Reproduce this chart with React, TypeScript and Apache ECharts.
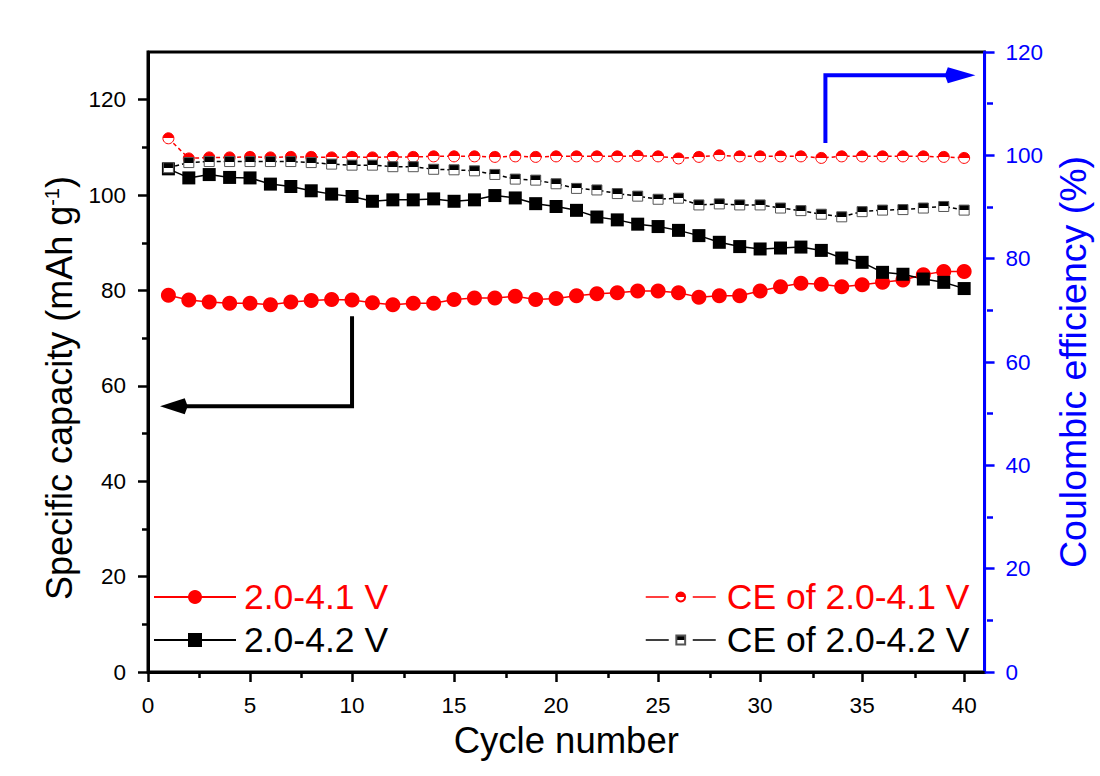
import React, { useEffect, useRef } from "react";
import * as echarts from "echarts";

const cycles = [1, 2, 3, 4, 5, 6, 7, 8, 9, 10, 11, 12, 13, 14, 15, 16, 17, 18, 19, 20, 21, 22, 23, 24, 25, 26, 27, 28, 29, 30, 31, 32, 33, 34, 35, 36, 37, 38, 39, 40];

const cap41 = [79.0, 78.0, 77.6, 77.3, 77.3, 77.0, 77.6, 77.9, 78.1, 78.0, 77.4, 77.0, 77.3, 77.3, 78.1, 78.4, 78.4, 78.8, 78.1, 78.3, 78.9, 79.3, 79.5, 79.9, 79.9, 79.5, 78.6, 78.9, 78.9, 79.9, 80.8, 81.5, 81.3, 80.8, 81.2, 81.7, 82.2, 83.3, 84.0, 84.0];

const cap42 = [105.5, 103.6, 104.3, 103.7, 103.6, 102.3, 101.8, 100.9, 100.2, 99.7, 98.7, 99.0, 99.0, 99.2, 98.7, 99.0, 99.9, 99.4, 98.2, 97.6, 96.8, 95.4, 94.8, 93.9, 93.4, 92.6, 91.5, 90.1, 89.2, 88.7, 88.9, 89.1, 88.4, 86.8, 85.9, 83.8, 83.4, 82.4, 81.7, 80.4];

const ce41 = [103.3, 99.4, 99.6, 99.6, 99.7, 99.6, 99.7, 99.7, 99.6, 99.7, 99.6, 99.7, 99.7, 99.8, 99.8, 99.8, 99.7, 99.8, 99.7, 99.8, 99.8, 99.8, 99.8, 99.9, 99.8, 99.4, 99.7, 100.0, 99.8, 99.8, 99.8, 99.8, 99.5, 99.8, 99.8, 99.8, 99.8, 99.8, 99.7, 99.5];

const ce42 = [97.6, 98.6, 98.8, 98.8, 98.8, 98.8, 98.8, 98.6, 98.3, 98.1, 98.1, 97.8, 97.8, 97.3, 97.2, 97.0, 96.3, 95.4, 95.2, 94.5, 93.6, 93.3, 92.6, 92.1, 91.5, 91.7, 90.4, 90.6, 90.4, 90.4, 89.8, 89.3, 88.6, 88.1, 89.1, 89.4, 89.5, 89.8, 90.1, 89.4];

const xMajorTicks = [0, 5, 10, 15, 20, 25, 30, 35, 40];
const xMinorTicks = [2.5, 7.5, 12.5, 17.5, 22.5, 27.5, 32.5, 37.5];
const yLeftMajorTicks = [0, 20, 40, 60, 80, 100, 120];
const yLeftMinorTicks = [10, 30, 50, 70, 90, 110];
const yRightMajorTicks = [0, 20, 40, 60, 80, 100, 120];
const yRightMinorTicks = [10, 30, 50, 70, 90, 110];

const seriesNames = ["2.0-4.1 V", "2.0-4.2 V", "CE of 2.0-4.1 V", "CE of 2.0-4.2 V"];

const RED = "#ff0000";
const BLUE = "#0000ff";
const BLACK = "#000000";
const FONT = "'Liberation Sans', Arial, sans-serif";

const halfFill = (c: string) => ({
  type: "linear",
  x: 0,
  y: 0,
  x2: 0,
  y2: 1,
  colorStops: [
    { offset: 0, color: c },
    { offset: 0.5, color: c },
    { offset: 0.5, color: "#ffffff" },
    { offset: 1, color: "#ffffff" },
  ],
});

const pairs = (vals: number[]) => cycles.map((c, i) => [c, vals[i]]);

const legendText = (color: string, pad: number) => ({
  color,
  fontSize: 35.5,
  lineHeight: 36,
  fontFamily: FONT,
  padding: [0, 0, 0, pad],
});

export default function App() {
  const ref = useRef<HTMLDivElement>(null);

  useEffect(() => {
    if (!ref.current) return;
    const chart = echarts.init(ref.current, null, { renderer: "svg" });
    const gridBox = { left: 148, right: 113, top: 52, bottom: 104 };

    const option: any = {
      animation: false,
      backgroundColor: "#ffffff",
      textStyle: { fontFamily: FONT },
      grid: [
        { ...gridBox, show: true, borderColor: BLACK, borderWidth: 3, backgroundColor: "transparent" },
        { ...gridBox },
      ],
      legend: [
        {
          orient: "vertical",
          left: 153,
          top: 579,
          padding: 0,
          itemWidth: 82,
          itemHeight: 17.5,
          itemGap: 7,
          textStyle: legendText(BLACK, 3),
          data: [
            { name: seriesNames[0], textStyle: legendText(RED, 3) },
            { name: seriesNames[1], textStyle: legendText(BLACK, 3) },
          ],
        },
        {
          orient: "vertical",
          left: 645,
          top: 579,
          padding: 0,
          itemWidth: 70,
          itemHeight: 11,
          itemGap: 7,
          lineStyle: { type: [23, 24], width: 1.5 },
          textStyle: legendText(BLACK, 6),
          data: [
            { name: seriesNames[2], textStyle: legendText(RED, 6) },
            { name: seriesNames[3], textStyle: legendText(BLACK, 6) },
          ],
        },
      ],
      xAxis: [
        {
          type: "value",
          gridIndex: 0,
          min: 0,
          max: 41,
          interval: 5,
          name: "Cycle number",
          nameLocation: "middle",
          nameGap: 47,
          nameTextStyle: { fontSize: 36.5, color: BLACK, fontFamily: FONT },
          axisLine: { show: true, lineStyle: { color: BLACK, width: 3 } },
          axisTick: { show: true, length: 10, customValues: xMajorTicks, lineStyle: { color: BLACK, width: 2.5 } },
          axisLabel: { customValues: xMajorTicks, fontSize: 22.5, color: BLACK, margin: 22, fontFamily: FONT },
          splitLine: { show: false },
        },
        {
          type: "value",
          gridIndex: 1,
          min: 0,
          max: 41,
          position: "bottom",
          axisLine: { show: false },
          axisTick: { show: true, length: 6, customValues: xMinorTicks, lineStyle: { color: BLACK, width: 2.5 } },
          axisLabel: { show: false },
          splitLine: { show: false },
        },
      ],
      yAxis: [
        {
          type: "value",
          gridIndex: 0,
          position: "left",
          min: 0,
          max: 130,
          interval: 10,
          name: "{a|Specific capacity (mAh g}{s|-1}{a|)}",
          nameLocation: "middle",
          nameRotate: 90,
          nameGap: 68,
          nameTextStyle: {
            color: BLACK,
            fontSize: 36,
            fontFamily: FONT,
            padding: [0, 52, 0, 0],
            rich: {
              a: { fontSize: 36, fontFamily: FONT, color: BLACK },
              s: { fontSize: 20, fontFamily: FONT, color: BLACK, verticalAlign: "top", padding: [0, 0, 16, 0] },
            },
          },
          axisLine: { show: true, lineStyle: { color: BLACK, width: 3 } },
          axisTick: { show: true, length: 10, customValues: yLeftMajorTicks, lineStyle: { color: BLACK, width: 2.5 } },
          axisLabel: { customValues: yLeftMajorTicks, fontSize: 22.5, color: BLACK, margin: 22, fontFamily: FONT },
          splitLine: { show: false },
        },
        {
          type: "value",
          gridIndex: 0,
          position: "right",
          min: 0,
          max: 120,
          interval: 20,
          name: "Coulombic efficiency (%)",
          nameLocation: "middle",
          nameRotate: 90,
          nameGap: 57,
          nameTextStyle: { color: BLUE, fontSize: 37.5, fontFamily: FONT },
          axisLine: { show: true, lineStyle: { color: BLUE, width: 3 } },
          axisTick: { show: true, length: 10, customValues: yRightMajorTicks, lineStyle: { color: BLUE, width: 2.5 } },
          axisLabel: { customValues: yRightMajorTicks, fontSize: 22.5, color: BLUE, margin: 21, fontFamily: FONT },
          splitLine: { show: false },
        },
        {
          type: "value",
          gridIndex: 1,
          position: "left",
          min: 0,
          max: 130,
          axisLine: { show: false },
          axisTick: { show: true, length: 6, customValues: yLeftMinorTicks, lineStyle: { color: BLACK, width: 2.5 } },
          axisLabel: { show: false },
          splitLine: { show: false },
        },
        {
          type: "value",
          gridIndex: 1,
          position: "right",
          min: 0,
          max: 120,
          axisLine: { show: false },
          axisTick: { show: true, length: 6, customValues: yRightMinorTicks, lineStyle: { color: BLUE, width: 2.5 } },
          axisLabel: { show: false },
          splitLine: { show: false },
        },
      ],
      series: [
        {
          name: seriesNames[0],
          type: "line",
          xAxisIndex: 0,
          yAxisIndex: 0,
          data: pairs(cap41),
          symbol: "circle",
          symbolSize: 15,
          itemStyle: { color: RED },
          lineStyle: { color: RED, width: 1.5 },
        },
        {
          name: seriesNames[1],
          type: "line",
          xAxisIndex: 0,
          yAxisIndex: 0,
          data: pairs(cap42),
          symbol: "rect",
          symbolSize: 13,
          itemStyle: { color: BLACK },
          lineStyle: { color: BLACK, width: 1.5 },
        },
        {
          name: seriesNames[2],
          type: "line",
          xAxisIndex: 0,
          yAxisIndex: 1,
          data: pairs(ce41),
          symbol: "circle",
          symbolSize: 11,
          itemStyle: { color: halfFill(RED), borderColor: RED, borderWidth: 1 },
          lineStyle: { color: RED, width: 1.5, type: [4, 3] },
        },
        {
          name: seriesNames[3],
          type: "line",
          xAxisIndex: 0,
          yAxisIndex: 1,
          data: pairs(ce42),
          symbol: "rect",
          symbolSize: 10,
          itemStyle: { color: halfFill(BLACK), borderColor: "#555555", borderWidth: 1 },
          lineStyle: { color: BLACK, width: 1.5, type: [4, 3] },
        },
      ],
    };

    chart.setOption(option);

    // Annotation arrows, placed in data coordinates
    const pl = (x: number, y: number) => chart.convertToPixel({ seriesIndex: 0 }, [x, y]) as number[];
    const pr = (x: number, y: number) => chart.convertToPixel({ seriesIndex: 2 }, [x, y]) as number[];

    const bStart = pl(10, 74.6);
    const bCorner = pl(10, 55.7);
    const bBase = pl(1.8, 55.7);
    const bTip = pl(0.59, 55.7);

    const uStart = pr(33.2, 102.4);
    const uCorner = pr(33.2, 115.5);
    const uBase = pr(39.2, 115.5);
    const uTip = pr(40.55, 115.5);

    chart.setOption({
      graphic: [
        {
          type: "polyline",
          shape: { points: [bStart, bCorner, bBase] },
          style: { stroke: BLACK, lineWidth: 4, fill: "none" },
          z: 100,
        },
        {
          type: "polygon",
          shape: { points: [bTip, [bBase[0], bBase[1] - 8], [bBase[0] + 3, bBase[1]], [bBase[0], bBase[1] + 8]] },
          style: { fill: BLACK },
          z: 100,
        },
        {
          type: "polyline",
          shape: { points: [uStart, uCorner, uBase] },
          style: { stroke: BLUE, lineWidth: 4, fill: "none" },
          z: 100,
        },
        {
          type: "polygon",
          shape: { points: [uTip, [uBase[0], uBase[1] - 8], [uBase[0] - 3, uBase[1]], [uBase[0], uBase[1] + 8]] },
          style: { fill: BLUE },
          z: 100,
        },
      ],
    });

    return () => chart.dispose();
  }, []);

  return (
    <div style={{ position: "fixed", left: 0, top: 0, width: 1100, height: 776, background: "#fff" }}>
      <div ref={ref} style={{ width: 1100, height: 776 }} />
    </div>
  );
}
